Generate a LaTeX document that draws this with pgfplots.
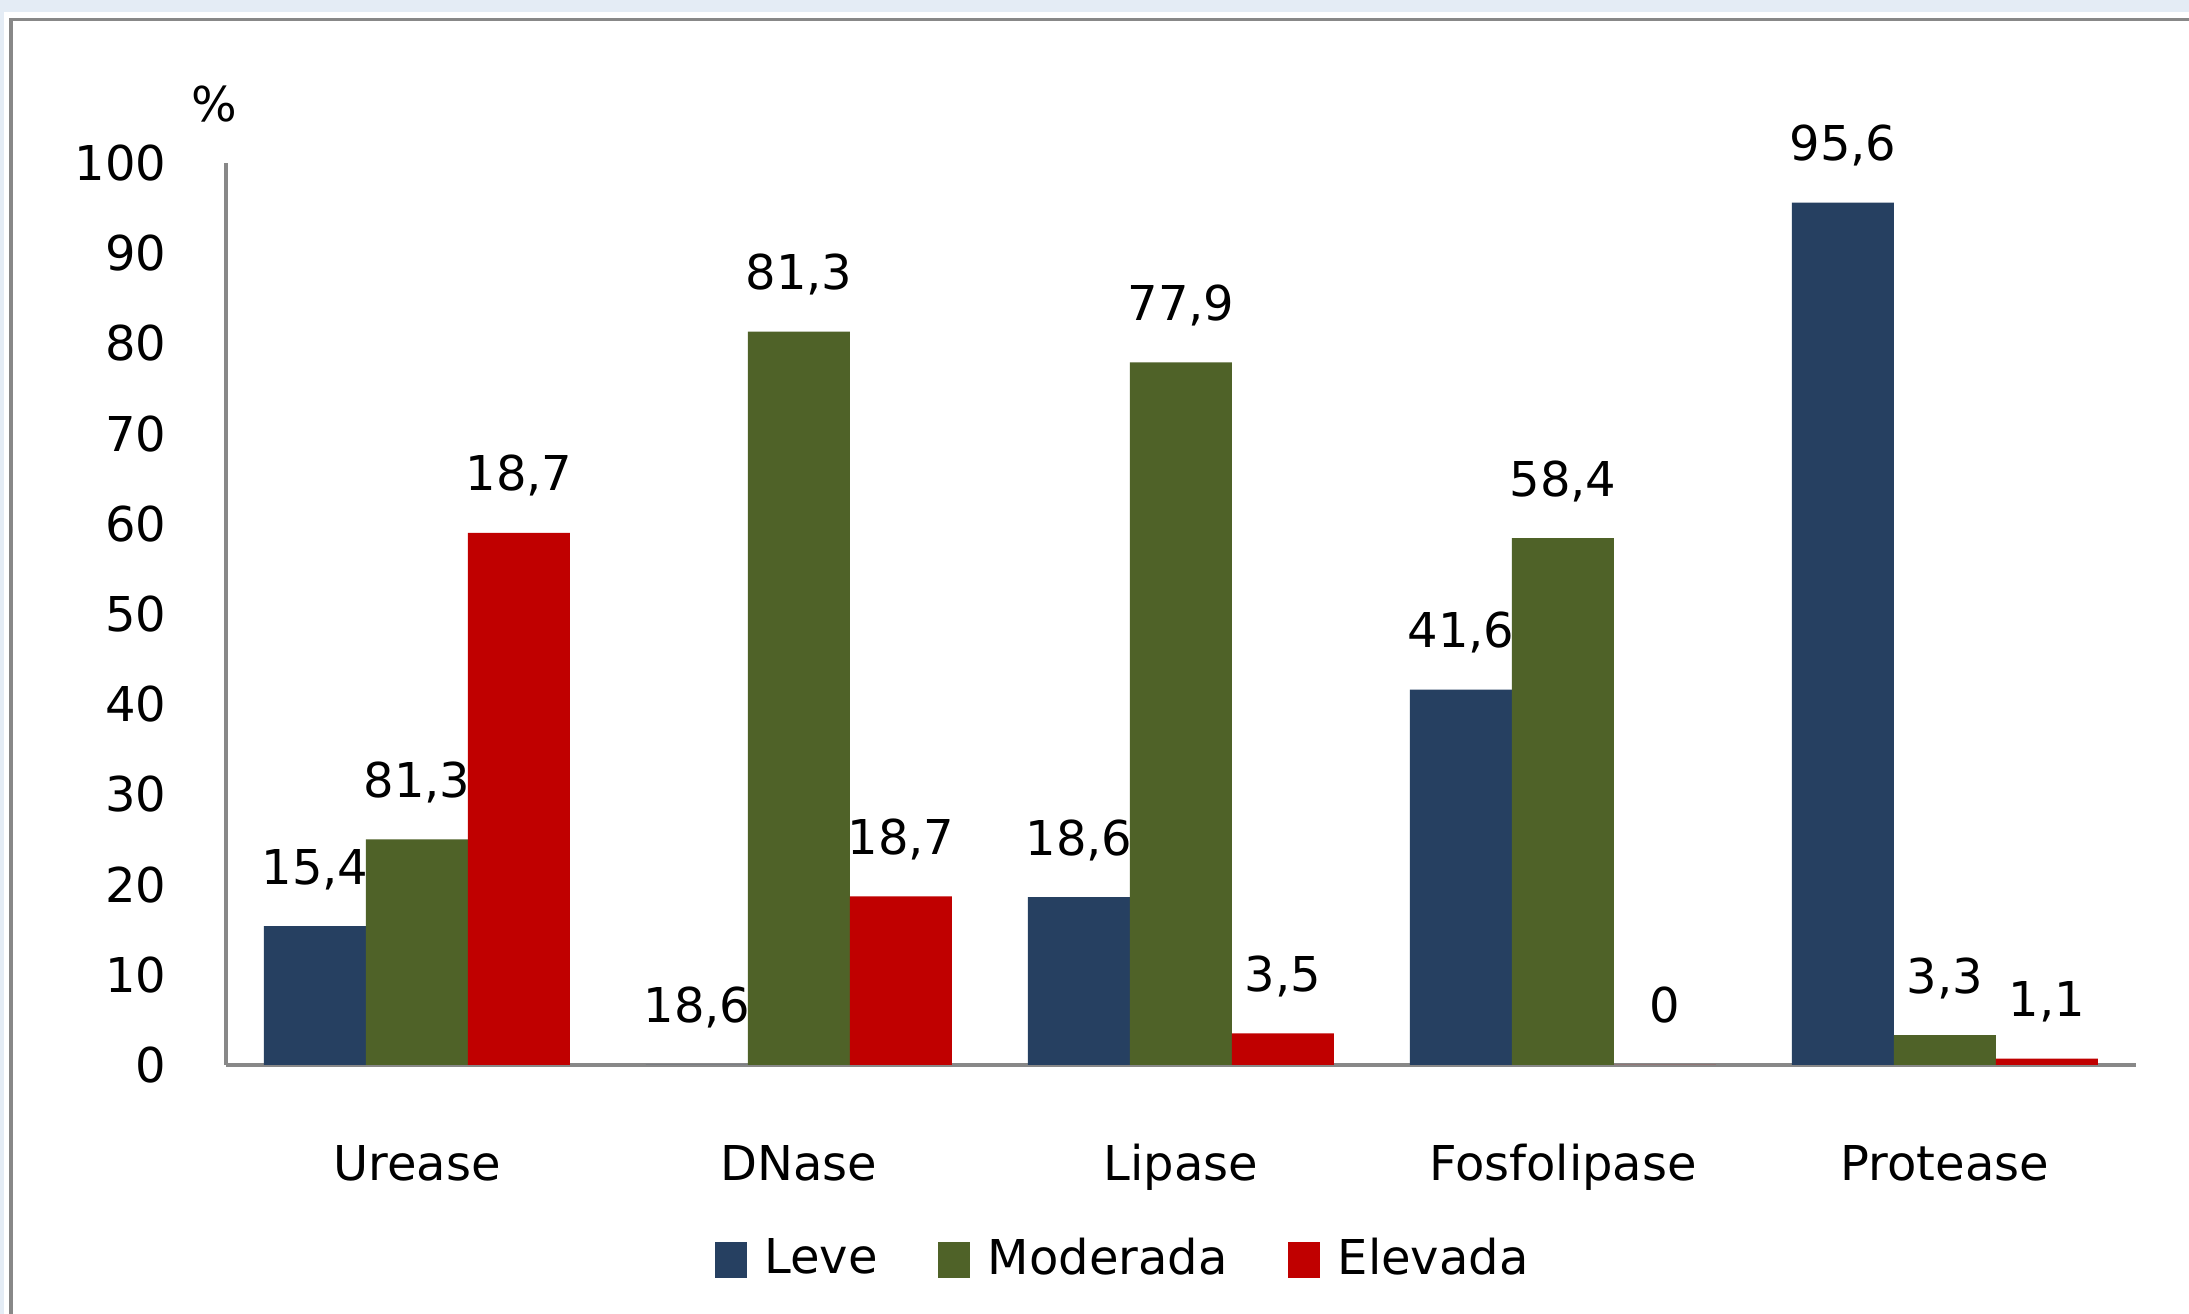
\documentclass[border=0pt]{standalone}
\usepackage{pgfplots}
\pgfplotsset{compat=1.18}
\usepackage{fontspec}
\setmainfont{DejaVu Sans}
\definecolor{leve}{HTML}{264061}
\definecolor{mod}{HTML}{4F6228}
\definecolor{elev}{HTML}{C00000}
\definecolor{axgray}{HTML}{888888}
\definecolor{bgblue}{HTML}{E4ECF5}
\begin{document}
\fontsize{12pt}{14pt}\selectfont
\begin{tikzpicture}
\useasboundingbox (0,0) rectangle (547.25pt,328.5pt);
\fill[bgblue] (0,0) rectangle (547.25pt,328.5pt);
\fill[white] (1.1pt,0) rectangle (547.25pt,325.4pt);
\draw[axgray, line width=0.9pt] (2.7pt,0) -- (2.7pt,323.6pt) -- (547.25pt,323.6pt);
\begin{axis}[
  at={(56.5pt,62.25pt)}, anchor=south west,
  scale only axis, width=477.5pt, height=225.5pt,
  xmin=-0.5, xmax=4.5, ymin=0, ymax=100,
  ybar=0pt, bar width=25.5pt,
  axis x line=bottom, axis y line=left,
  axis line style={-, draw=axgray, line width=1pt},
  xtick={0,1,2,3,4},
  xticklabels={Urease,DNase,Lipase,Fosfolipase,Protease},
  ytick={0,10,...,100},
  major tick length=0pt,
  tick style={draw=none},
  xticklabel style={anchor=base, yshift=-29pt, inner sep=0pt},
  yticklabel style={anchor=east, xshift=-14.75pt, inner sep=0pt},
  /pgf/number format/assume math mode=true,
  tick label style={font=\fontsize{12pt}{14pt}\selectfont, text=black},
  point meta=explicit symbolic,
  nodes near coords,
  every node near coord/.append style={anchor=base, yshift=10.5pt, inner sep=0pt, font=\fontsize{12pt}{14pt}\selectfont, text=black},
  clip=false,
  legend style={at={(0.471,-0.216)}, anchor=center, draw=none, fill=none,
    legend columns=-1, font=\fontsize{12pt}{14pt}\selectfont,
    /tikz/every even column/.append style={column sep=13pt}},
  legend image code/.code={\fill[#1] (0pt,-4.5pt) rectangle (8pt,4.5pt); \path (10.5pt,0pt);},
]
\addplot[fill=leve, draw=none] coordinates {(0,15.4) [15,4] (1,0) [18,6] (2,18.6) [18,6] (3,41.6) [41,6] (4,95.6) [95,6]};
\addplot[fill=mod, draw=none] coordinates {(0,25.0) [81,3] (1,81.3) [81,3] (2,77.9) [77,9] (3,58.4) [58,4] (4,3.3) [3,3]};
\addplot[fill=elev, draw=none] coordinates {(0,59.0) [18,7] (1,18.7) [18,7] (2,3.5) [3,5] (3,0) [0] (4,0.7) [1,1]};
\legend{Leve,Moderada,Elevada}
\node[font=\fontsize{12pt}{14pt}\selectfont, anchor=center] at (rel axis cs:-0.0063,1.0654) {\%};
\end{axis}
\end{tikzpicture}
\end{document}
